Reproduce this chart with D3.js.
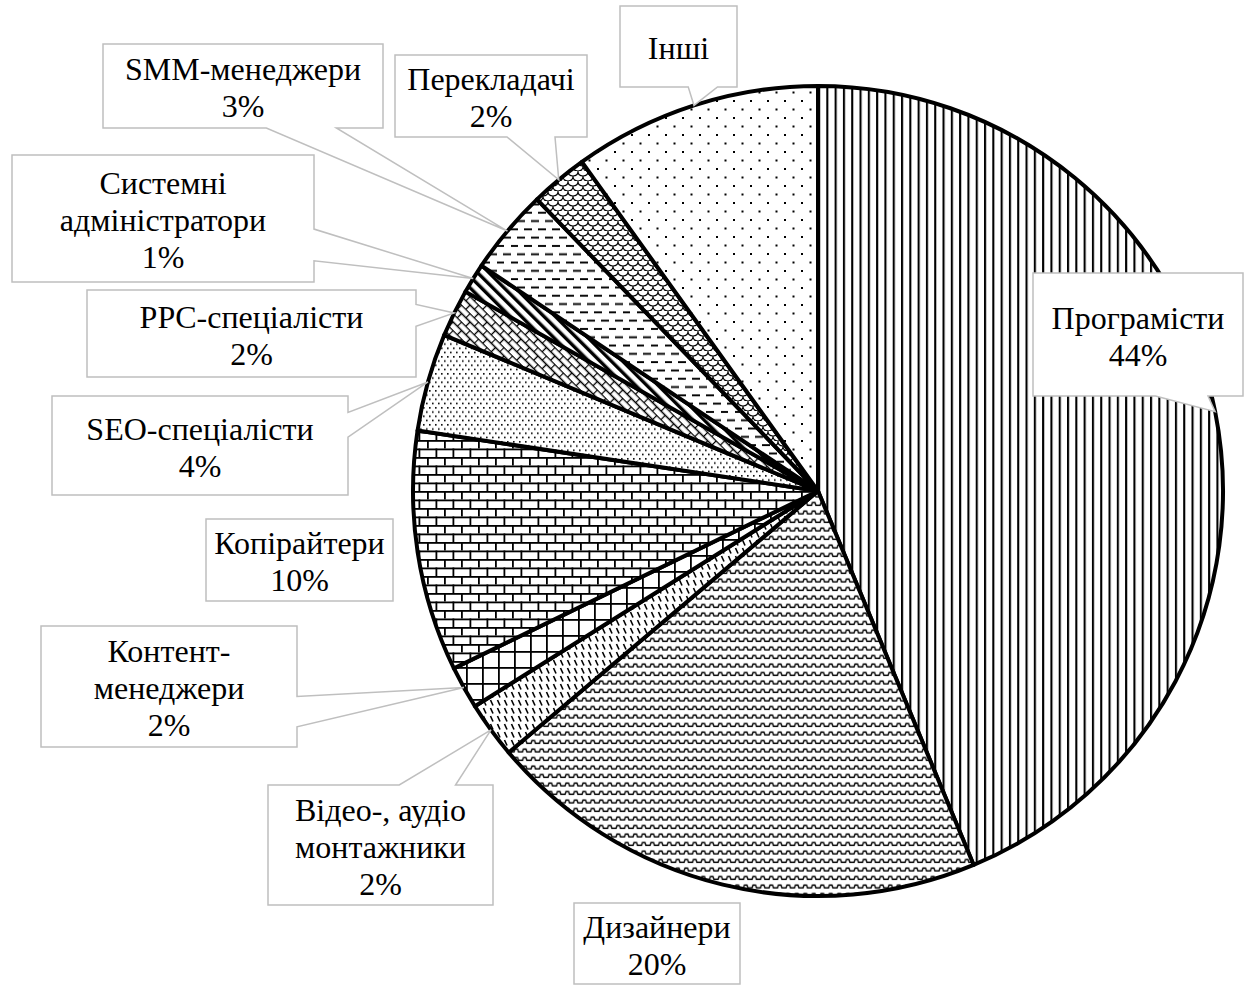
<!DOCTYPE html>
<html>
<head>
<meta charset="utf-8">
<script src="https://cdn.jsdelivr.net/npm/d3@7"></script>
<style>
  body { margin: 0; background: #fff; }
  svg { display: block; }
</style>
</head>
<body>
<svg id="chart" width="1248" height="985"></svg>
<script>
// slices, clockwise from 12 o'clock
var categories = ["Програмісти", "Дизайнери", "Відео-, аудіо монтажники", "Контент-менеджери",
    "Копірайтери", "SEO-спеціалісти", "PPC-спеціалісти", "Системні адміністратори",
    "SMM-менеджери", "Перекладачі", "Інші"];
var shares = [43.7, 20.1, 2.25, 1.7, 9.6, 3.9, 1.9, 1.2, 3.4, 2.3, 9.9];
var labelNames = [["Програмісти"], ["Дизайнери"], ["Відео-, аудіо", "монтажники"], ["Контент-", "менеджери"],
    ["Копірайтери"], ["SEO-спеціалісти"], ["PPC-спеціалісти"], ["Системні", "адміністратори"],
    ["SMM-менеджери"], ["Перекладачі"], ["Інші"]];
var showPct = [true, true, true, true, true, true, true, true, true, true, false];

// label boxes [x, y, w, h, has wedge]
var labelBoxes = [
    [1033, 273, 210, 123, true],
    [574, 903, 166, 81, false],
    [268, 785, 225, 120, true],
    [41, 626, 256, 121, true],
    [206, 519, 187, 82, false],
    [52, 396, 296, 99, true],
    [87, 290, 329, 87, true],
    [12, 155, 302, 127, true],
    [103, 44, 280, 84, true],
    [395, 55, 192, 82, true],
    [620, 6, 117, 81, true]
];

var width = 1248,
    height = 985,
    cx = 818,
    cy = 491,
    radius = 405;

var svg = d3.select("#chart");
var defs = svg.append("defs");

function pattern(id, w, h, transform) {
    var p = defs.append("pattern")
        .attr("id", id)
        .attr("patternUnits", "userSpaceOnUse")
        .attr("width", w)
        .attr("height", h);
    if (transform) p.attr("patternTransform", transform);
    p.append("rect").attr("width", w).attr("height", h).attr("fill", "#fff");
    return p;
}

// Програмісти - vertical lines
pattern("p0", 8.3, 10).append("rect").attr("x", 0).attr("width", 2.1).attr("height", 10).attr("fill", "#000");

// Дизайнери - small waves
pattern("p1", 8.5, 8.5).append("path")
    .attr("d", "M0,6 L2,6 L3,3 L5.5,3 L6.5,6 L8.5,6")
    .attr("fill", "none").attr("stroke", "#000").attr("stroke-width", 1.4);

// Відео - dashed diagonal
pattern("p2", 7, 8).append("path")
    .attr("d", "M1.5,1 L4,6.5")
    .attr("fill", "none").attr("stroke", "#000").attr("stroke-width", 1.6);

// Контент - large grid
var g3 = pattern("p3", 16, 16);
g3.append("rect").attr("width", 16).attr("height", 1.8).attr("fill", "#000");
g3.append("rect").attr("width", 1.8).attr("height", 16).attr("fill", "#000");

// Копірайтери - horizontal brick
var g4 = pattern("p4", 17, 17);
g4.append("rect").attr("y", 0).attr("width", 17).attr("height", 1.8).attr("fill", "#000");
g4.append("rect").attr("y", 8.5).attr("width", 17).attr("height", 1.8).attr("fill", "#000");
g4.append("rect").attr("x", 0).attr("y", 0).attr("width", 1.8).attr("height", 8.5).attr("fill", "#000");
g4.append("rect").attr("x", 8.5).attr("y", 8.5).attr("width", 1.8).attr("height", 8.5).attr("fill", "#000");

// SEO - dense dots
var g5 = pattern("p5", 6, 8.5);
g5.append("rect").attr("x", 1).attr("y", 1).attr("width", 1.6).attr("height", 1.6).attr("fill", "#000");
g5.append("rect").attr("x", 4).attr("y", 5.25).attr("width", 1.6).attr("height", 1.6).attr("fill", "#000");

// PPC - diagonal brick
var g6 = pattern("p6", 12, 12, "rotate(45)");
g6.append("path")
    .attr("d", "M0,0.5 H12 M0,6.5 H12 M0.5,0 V6 M6.5,6 V12")
    .attr("stroke", "#000").attr("stroke-width", 1.3);

// Системні - wide diagonal
pattern("p7", 8, 8, "rotate(-45)").append("rect").attr("width", 3.4).attr("height", 8).attr("fill", "#000");

// SMM - dashed horizontal
var g8 = pattern("p8", 14, 16.6);
g8.append("rect").attr("x", 0).attr("y", 3).attr("width", 8).attr("height", 1.9).attr("fill", "#000");
g8.append("rect").attr("x", 7).attr("y", 11.3).attr("width", 8).attr("height", 1.9).attr("fill", "#000");
g8.append("rect").attr("x", -7).attr("y", 11.3).attr("width", 8).attr("height", 1.9).attr("fill", "#000");

// Перекладачі - scales
pattern("p9", 10, 10).append("path")
    .attr("d", "M0,0 Q0,5 5,5 Q10,5 10,0 M-5,5 Q-5,10 0,10 Q5,10 5,5 Q5,10 10,10 Q15,10 15,5")
    .attr("fill", "none").attr("stroke", "#000").attr("stroke-width", 1.1);

// Інші - sparse dots
var g10 = pattern("p10", 17, 17);
g10.append("rect").attr("x", 0).attr("y", 0).attr("width", 2).attr("height", 2).attr("fill", "#000");
g10.append("rect").attr("x", 8.5).attr("y", 8.5).attr("width", 2).attr("height", 2).attr("fill", "#000");

var pie = d3.pie().sort(null).value(function (d) { return d; });
var arcs = pie(shares);

var arc = d3.arc().innerRadius(0).outerRadius(radius);
var edgeArc = d3.arc().innerRadius(radius).outerRadius(radius);

var g = svg.append("g").attr("transform", "translate(" + cx + "," + cy + ")");

g.selectAll("path.slice")
    .data(arcs)
    .enter()
    .append("path")
    .attr("class", "slice")
    .attr("d", arc)
    .attr("fill", function (d, i) { return "url(#p" + i + ")"; })
    .attr("stroke", "#000")
    .attr("stroke-width", 4)
    .attr("stroke-linejoin", "round");

// wedge rectangle callout (same geometry as the office preset shape)
function calloutPath(x, y, w, h, tx, ty) {
    var l = x, t = y, r = x + w, b = y + h;
    var hc = x + w / 2, vc = y + h / 2;
    var dxPos = tx - hc, dyPos = ty - vc;
    var dq = dxPos * h / w;
    var dz = Math.abs(dyPos) - Math.abs(dq);
    var x1 = x + w * (dxPos > 0 ? 7 : 2) / 12,
        x2 = x + w * (dxPos > 0 ? 10 : 5) / 12,
        y1 = y + h * (dyPos > 0 ? 7 : 2) / 12,
        y2 = y + h * (dyPos > 0 ? 10 : 5) / 12;
    var pts = [[l, t]];
    if (dz > 0 && dyPos < 0) pts.push([x1, t], [tx, ty], [x2, t]);
    pts.push([r, t]);
    if (dz <= 0 && dxPos > 0) pts.push([r, y1], [tx, ty], [r, y2]);
    pts.push([r, b]);
    if (dz > 0 && dyPos > 0) pts.push([x2, b], [tx, ty], [x1, b]);
    pts.push([l, b]);
    if (dz <= 0 && dxPos < 0) pts.push([l, y2], [tx, ty], [l, y1]);
    return "M" + pts.map(function (p) { return p[0] + "," + p[1]; }).join("L") + "Z";
}

var fontSize = 32,
    lineHeight = 37;

var labels = svg.append("g").selectAll("g.label")
    .data(arcs)
    .enter()
    .append("g")
    .attr("class", "label");

labels.append("path")
    .attr("d", function (d, i) {
        var bx = labelBoxes[i];
        var tip = edgeArc.centroid(d);
        if (!bx[4]) return calloutPath(bx[0], bx[1], bx[2], bx[3], bx[0] + bx[2] / 2, bx[1] + bx[3] / 2);
        return calloutPath(bx[0], bx[1], bx[2], bx[3], tip[0] + cx, tip[1] + cy);
    })
    .attr("fill", "#fff")
    .attr("stroke", "#bfbfbf")
    .attr("stroke-width", 1.5);

labels.each(function (d, i) {
    var bx = labelBoxes[i];
    var lines = labelNames[i].slice();
    if (showPct[i]) lines.push(Math.round(shares[i]) + "%");
    var midX = bx[0] + bx[2] / 2,
        midY = bx[1] + bx[3] / 2;
    var first = midY - (lines.length - 1) * lineHeight / 2;
    d3.select(this).selectAll("text")
        .data(lines)
        .enter()
        .append("text")
        .attr("x", midX)
        .attr("y", function (t, k) { return first + k * lineHeight + fontSize * 0.4; })
        .attr("text-anchor", "middle")
        .style("font-family", "'Liberation Serif', 'Times New Roman', serif")
        .style("font-size", fontSize + "px")
        .style("fill", "#000")
        .text(function (t) { return t; });
});
</script>
</body>
</html>
